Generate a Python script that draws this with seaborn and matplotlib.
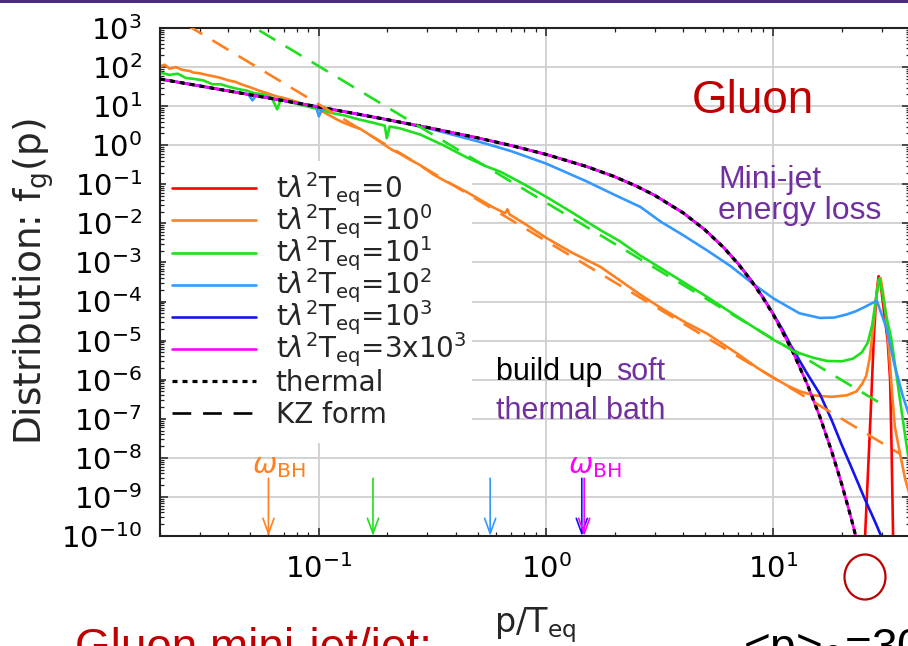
import numpy as np
import pandas as pd
import seaborn as sns
import matplotlib
matplotlib.use("Agg")
import matplotlib.pyplot as plt
from matplotlib.lines import Line2D
from matplotlib.patches import Ellipse, Rectangle
from matplotlib.ticker import LogLocator, NullFormatter, LogFormatterSciNotation

# ---------------------------------------------------------------------------
# Gluon distribution f_g(p) versus p/T_eq at successive times t*lambda^2*T_eq
# ---------------------------------------------------------------------------

# equilibrium (Bose-Einstein) distribution; the 3x10^3 curve lies on it
thermal_p = [0.02, 0.03, 0.05, 0.07, 0.1, 0.15, 0.2, 0.3, 0.5, 0.7, 1.0, 1.5,
             2.0, 2.5, 3.0, 4.0, 5.0, 6.0, 7.0, 8.0, 9.0, 10.0, 12.0, 14.0,
             16.0, 18.0, 20.0, 22.0, 24.0]
thermal_f = [49.5, 32.8, 19.5, 13.8, 9.51, 6.18, 4.52, 2.86, 1.54, 0.986, 0.582,
             0.287, 0.157, 0.0894, 5.24e-2, 1.87e-2, 6.78e-3, 2.49e-3, 9.13e-4,
             3.36e-4, 1.23e-4, 4.54e-5, 6.14e-6, 8.32e-7, 1.13e-7, 1.52e-8,
             2.06e-9, 2.79e-10, 3.78e-11]

# t = 10^3 : thermal body with a harder tail
t1000_p = [0.02, 0.03, 0.05, 0.07, 0.1, 0.15, 0.2, 0.3, 0.5, 0.7, 1.0, 1.5, 2.0,
           2.5, 3.0, 4.0, 5.0, 6.0, 7.0, 8.0, 9.0, 10.0, 11.0, 12.0, 14.0, 16.0,
           18.0, 20.0, 22.0, 25.0, 28.0, 30.0, 32.0]
t1000_f = [49.5, 32.8, 19.5, 13.8, 9.51, 6.18, 4.52, 2.86, 1.54, 0.986, 0.582,
           0.287, 0.157, 0.0894, 5.24e-2, 1.88e-2, 6.85e-3, 2.53e-3, 9.3e-4,
           3.45e-4, 1.28e-4, 4.75e-5, 1.85e-5, 7.0e-6, 1.5e-6, 4.3e-7, 9.5e-8,
           2.1e-8, 5.8e-9, 1.0e-9, 2.3e-10, 9e-11, 3e-11]

# t = 10^2
t100_p = [0.02, 0.03, 0.045, 0.049, 0.051, 0.053, 0.07, 0.09, 0.097, 0.1, 0.104,
          0.15, 0.2, 0.3, 0.5, 0.7, 1.0, 1.5, 2.0, 2.6, 3.2, 4.0, 5.1, 6.5, 8.1,
          10.0, 13.0, 16.0, 18.5, 21.0, 23.0, 25.0, 27.0, 28.5, 30.0, 31.5, 34.0,
          37.0, 40.0]
t100_log10f = [1.69, 1.52, 1.34, 1.30, 1.15, 1.27, 1.14, 1.03, 1.00, 0.74, 0.96,
               0.79, 0.65, 0.44, 0.10, -0.15, -0.47, -0.92, -1.27, -1.58, -1.96,
               -2.30, -2.69, -3.10, -3.54, -3.92, -4.30, -4.42, -4.41, -4.33,
               -4.25, -4.15, -4.05, -3.98, -4.35, -4.70, -5.60, -6.40, -7.00]

# t = 10^1
t10_p = [0.02, 0.022, 0.024, 0.026, 0.028, 0.031, 0.034, 0.037, 0.04, 0.044,
         0.048, 0.052, 0.057, 0.062, 0.0655, 0.068, 0.075, 0.085, 0.1, 0.115,
         0.13, 0.15, 0.175, 0.195, 0.199, 0.205, 0.228, 0.28, 0.353, 0.45, 0.55,
         0.63, 0.8, 1.0, 1.3, 1.73, 2.1, 2.59, 3.5, 5.0, 7.9, 10.0, 13.0, 15.0,
         17.2, 20.0, 22.4, 24.5, 26.0, 27.2, 28.3, 29.2, 30.2, 31.4, 33.0, 36.0,
         39.0, 41.0]
t10_log10f = [1.86, 1.80, 1.83, 1.72, 1.70, 1.66, 1.56, 1.56, 1.50, 1.44, 1.40,
              1.33, 1.30, 1.22, 0.92, 1.17, 1.10, 1.02, 0.92, 0.82, 0.76, 0.66,
              0.57, 0.50, 0.18, 0.48, 0.43, 0.27, 0.00, -0.32, -0.55, -0.68,
              -1.00, -1.32, -1.72, -2.17, -2.45, -2.82, -3.29, -3.85, -4.60,
              -4.98, -5.32, -5.44, -5.52, -5.53, -5.46, -5.30, -5.05, -4.60,
              -3.90, -3.41, -3.80, -4.39, -4.95, -6.50, -7.90, -8.50]

# t = 10^0
t1_p = [0.02, 0.021, 0.022, 0.0235, 0.025, 0.027, 0.028, 0.030, 0.032, 0.034,
        0.036, 0.038, 0.040, 0.043, 0.046, 0.050, 0.055, 0.060, 0.065, 0.070,
        0.077, 0.085, 0.092, 0.0985, 0.11, 0.12, 0.128, 0.14, 0.152, 0.17, 0.19,
        0.21, 0.228, 0.25, 0.279, 0.319, 0.36, 0.40, 0.448, 0.50, 0.58, 0.66,
        0.675, 0.69, 0.80, 1.0, 1.3, 1.73, 2.1, 2.59, 3.17, 4.0, 5.1, 7.0, 8.5,
        10.0, 11.5, 13.1, 15.0, 18.0, 21.0, 23.2, 24.6, 25.6, 26.5, 27.3, 28.2,
        29.0, 29.6, 30.3, 31.2, 32.2, 33.2, 34.2, 36.0, 38.0, 40.0]
t1_log10f = [2.02, 2.06, 1.96, 2.00, 1.93, 1.90, 1.86, 1.84, 1.80, 1.77, 1.74,
             1.70, 1.66, 1.62, 1.55, 1.48, 1.39, 1.32, 1.25, 1.21, 1.14, 1.06,
             0.99, 0.94, 0.78, 0.66, 0.58, 0.49, 0.42, 0.24, 0.05, -0.12, -0.22,
             -0.36, -0.51, -0.75, -0.92, -1.05, -1.20, -1.36, -1.58, -1.74,
             -1.64, -1.77, -2.00, -2.37, -2.75, -3.11, -3.45, -3.82, -4.15,
             -4.50, -4.82, -5.35, -5.70, -5.95, -6.15, -6.30, -6.40, -6.44,
             -6.40, -6.30, -6.10, -5.90, -5.45, -4.80, -4.00, -3.45, -3.40,
             -3.75, -4.30, -5.20, -6.30, -7.20, -7.88, -8.55, -9.00]

# t = 0 : initial mini-jet peak only
t0_p = [24.8, 25.3, 26.0, 26.8, 27.6, 28.3, 29.0, 29.7, 30.7, 31.8, 32.6, 33.1,
        33.6, 34.0]
t0_log10f = [-11.0, -10.0, -8.5, -6.8, -5.0, -3.9, -3.35, -3.6, -4.3, -5.0,
             -6.0, -7.8, -10.0, -11.0]

# Kolmogorov-Zakharov power laws (straight on log-log axes)
kz1_p = [0.02, 36.0]
kz1_f = [3.1e3, 1.27e-8]
kz10_p = [0.02, 31.0]
kz10_f = [2.9e4, 2.1e-7]

# Bethe-Heitler frequency markers
bh_p = [0.060, 0.173, 0.567, 1.435, 1.47]
bh_top = 3.0e-9

series_labels = [r"t$\lambda^2$T$_{\rm eq}$=0",
                 r"t$\lambda^2$T$_{\rm eq}$=10$^0$",
                 r"t$\lambda^2$T$_{\rm eq}$=10$^1$",
                 r"t$\lambda^2$T$_{\rm eq}$=10$^2$",
                 r"t$\lambda^2$T$_{\rm eq}$=10$^3$",
                 r"t$\lambda^2$T$_{\rm eq}$=3x10$^3$"]

RED, ORANGE, GREEN = "#ff0000", "#ff8020", "#1ee01e"
LBLUE, BLUE, MAGENTA = "#3399ff", "#1414f0", "#ff00ff"
DARKRED, PURPLE = "#c00000", "#7030a0"

# ---------------------------------------------------------------------------
sns.set_theme(style="ticks")
plt.rcParams["font.family"] = ["DejaVu Sans"]
plt.rcParams["mathtext.fontset"] = "dejavusans"
plt.rcParams["lines.scale_dashes"] = False

W, H = 908, 646
fig = plt.figure(figsize=(W / 100, H / 100), dpi=100)
fig.patch.set_facecolor("white")


def fx(px):
    return px / W


def fy(py):
    return 1 - py / H


ax = fig.add_axes([fx(160), fy(536), (910.3 - 160) / W, (536 - 28) / H])
ax.set_xscale("log")
ax.set_yscale("log")
ax.set_xlim(0.02, 40)
ax.set_ylim(1e-10, 1e3)

frames = [
    (t0_p, 10 ** np.array(t0_log10f), RED, series_labels[0]),
    (t1_p, 10 ** np.array(t1_log10f), ORANGE, series_labels[1]),
    (t10_p, 10 ** np.array(t10_log10f), GREEN, series_labels[2]),
    (t100_p, 10 ** np.array(t100_log10f), LBLUE, series_labels[3]),
    (t1000_p, np.array(t1000_f), BLUE, series_labels[4]),
    (thermal_p, np.array(thermal_f), MAGENTA, series_labels[5]),
]
for p, f, c, lab in frames:
    df = pd.DataFrame({"p": p, "f": f})
    sns.lineplot(data=df, x="p", y="f", ax=ax, color=c, lw=1.9,
                 estimator=None, sort=False, label=lab, zorder=2)

sns.lineplot(x=thermal_p, y=thermal_f, ax=ax, color="black", lw=2.3,
             linestyle=(0, (3.6, 3.6)), estimator=None, sort=False,
             label="thermal", zorder=3)
for p, f, c in [(kz1_p, kz1_f, ORANGE), (kz10_p, kz10_f, GREEN)]:
    sns.lineplot(x=p, y=f, ax=ax, color=c, lw=1.9,
                 linestyle=(0, (13.5, 8.5)), estimator=None, sort=False,
                 zorder=3)

# grid, ticks, frame in gnuplot style
ax.set_axisbelow(True)
ax.grid(True, which="major", color="#cfcfcf", lw=1.3)
ax.grid(False, which="minor")
ax.xaxis.set_major_locator(LogLocator(base=10, numticks=20))
ax.yaxis.set_major_locator(LogLocator(base=10, numticks=30))
ax.xaxis.set_minor_locator(LogLocator(base=10, subs=np.arange(2, 10), numticks=100))
ax.yaxis.set_minor_locator(LogLocator(base=10, subs=np.arange(2, 10), numticks=200))
ax.xaxis.set_minor_formatter(NullFormatter())
ax.yaxis.set_minor_formatter(NullFormatter())
ax.xaxis.set_major_formatter(LogFormatterSciNotation())
ax.yaxis.set_major_formatter(LogFormatterSciNotation())
ax.tick_params(which="both", direction="in", top=True, right=True,
               colors="#222222", labelcolor="black")
ax.tick_params(which="major", length=6, width=1.1, labelsize=21)
ax.tick_params(which="minor", length=3, width=0.9)
ax.tick_params(axis="y", which="major", pad=13)
ax.tick_params(axis="x", which="major", pad=13)
for s in ax.spines.values():
    s.set_color("#222222")
    s.set_linewidth(1.5)

ax.set_xlabel(r"p/T$_{\rm eq}$", fontsize=24, labelpad=15)
ax.set_ylabel(r"Distribution: f$_{\rm g}$(p)", fontsize=27)
ax.yaxis.set_label_coords(-0.139, 0.5)

# legend (white box, drawn beneath the curves); a tall handle box keeps
# every row at the same pitch whatever the label's sub/superscripts
handles, labels = ax.get_legend_handles_labels()
handles.append(Line2D([], [], color="black", lw=1.9, linestyle=(0, (13.5, 8.5))))
labels.append("KZ form")
leg = ax.legend(handles, labels, loc="upper left", bbox_to_anchor=(0.008, 0.739),
                fontsize=20, frameon=True, facecolor="white", edgecolor="none",
                framealpha=1, fancybox=False, handlelength=3.05,
                handleheight=2.2, handletextpad=0.7, labelspacing=-0.52,
                borderpad=0.2, borderaxespad=0)
leg.set_zorder(1)
for ln in leg.get_lines():
    ln.set_ydata(np.asarray(ln.get_ydata()) - 4.5)

# omega_BH markers
for p, c in zip(bh_p, [ORANGE, GREEN, LBLUE, BLUE, MAGENTA]):
    ax.annotate("", xy=(p, 1e-10), xytext=(p, bh_top),
                arrowprops=dict(arrowstyle="->,head_length=0.55,head_width=0.2",
                                color=c, lw=1.2, shrinkA=0, shrinkB=0,
                                mutation_scale=20), zorder=4)
for p, c in [(bh_p[0], ORANGE), (bh_p[4], MAGENTA)]:
    ax.annotate(r"$\omega_{\rm BH}$", xy=(p, 4.1e-9), xytext=(-12, 0),
                textcoords="offset points", ha="left", va="baseline",
                color=c, fontsize=21, zorder=4)

# slide annotations
slide = dict(family=["Liberation Sans", "DejaVu Sans"])
fig.text(fx(752.5), fy(113), "Gluon", ha="center", va="baseline",
         fontsize=33, color=DARKRED, **slide)
fig.text(fx(718), fy(188), "Mini-jet", ha="left", va="baseline",
         fontsize=23, color=PURPLE, **slide)
fig.text(fx(718), fy(218.5), "energy loss", ha="left", va="baseline",
         fontsize=23, color=PURPLE, **slide)
fig.text(fx(496.5), fy(380), "build up ", ha="left", va="baseline",
         fontsize=22, color="black", **slide)
fig.text(fx(616.5), fy(380), "soft", ha="left", va="baseline",
         fontsize=22, color=PURPLE, **slide)
fig.text(fx(496.5), fy(419), "thermal bath", ha="left", va="baseline",
         fontsize=22, color=PURPLE, **slide)
fig.text(fx(75), fy(661), "Gluon mini-jet/jet:", ha="left", va="baseline",
         fontsize=33, color=DARKRED, **slide)
fig.text(fx(743), fy(661), r"<p>$_0$=30", ha="left", va="baseline",
         fontsize=33, color="black", **slide)
fig.patches.append(Ellipse((fx(865), fy(577)), 41 / W, 45 / H, fill=False,
                           edgecolor=DARKRED, lw=1.6, transform=fig.transFigure))
fig.patches.append(Rectangle((0, fy(3)), 1, 3 / H, facecolor="#4a2a82",
                             edgecolor="none", transform=fig.transFigure))

fig.savefig("out.png", dpi=100)
